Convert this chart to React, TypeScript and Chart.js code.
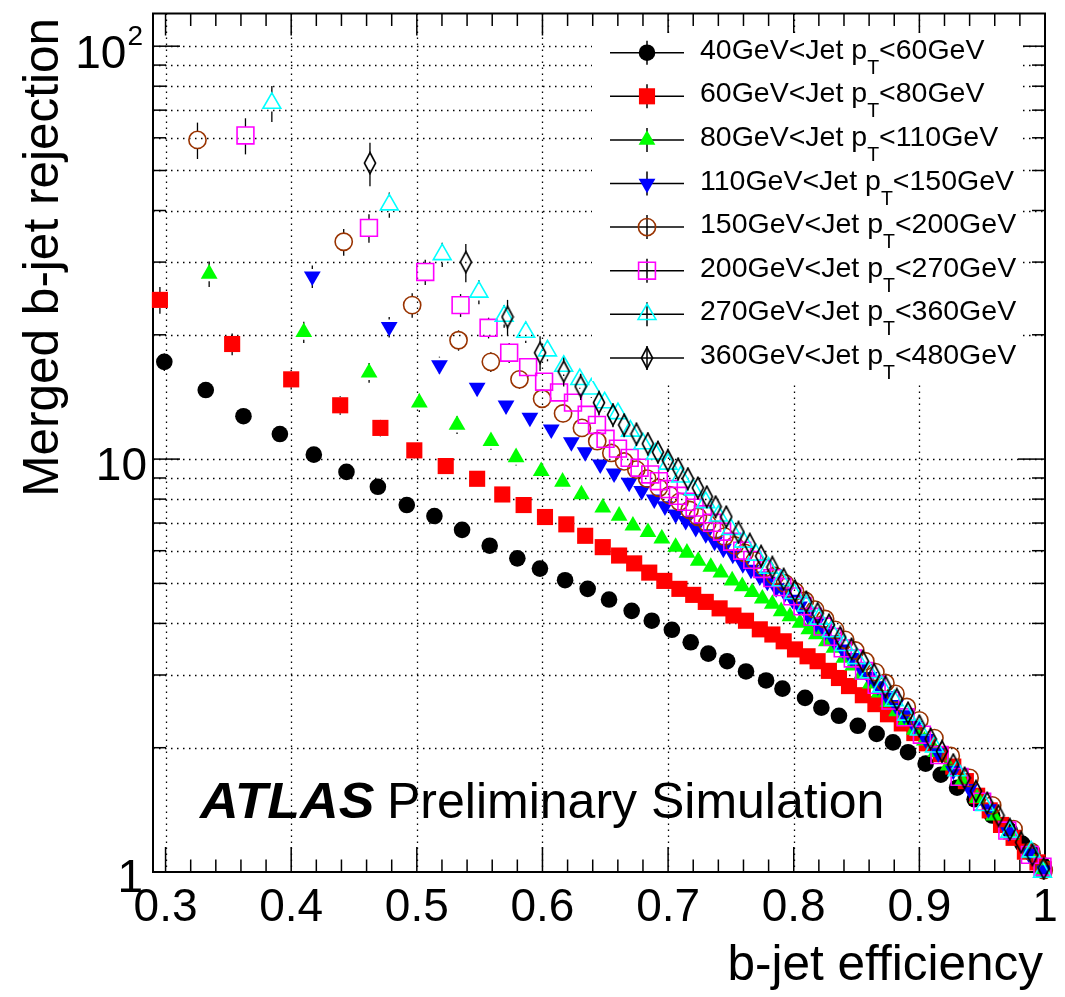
import React, { useEffect, useRef } from "react";
import { Chart, registerables } from "chart.js";
Chart.register(...registerables);

// [b-jet efficiency, merged b-jet rejection, stat. error]
type Pt = [number, number, number];

const PT_BINS = [40, 60, 80, 110, 150, 200, 270, 360, 480];

const PT40_60: Pt[] = [
  [0.299, 17.2, 0.85], [0.332, 14.7, 0.65], [0.362, 12.7, 0.5], [0.391, 11.5, 0.42], [0.418, 10.25, 0.36],
  [0.444, 9.31, 0.3], [0.469, 8.57, 0.26], [0.492, 7.74, 0.22], [0.514, 7.28, 0.2], [0.536, 6.74, 0.18],
  [0.558, 6.17, 0.16], [0.58, 5.75, 0.14], [0.598, 5.43, 0.13], [0.618, 5.09, 0.12], [0.636, 4.85, 0.11],
  [0.653, 4.57, 0.1], [0.671, 4.29, 0.09], [0.687, 4.06, 0.085], [0.703, 3.86, 0.08], [0.718, 3.6, 0.07],
  [0.732, 3.38, 0.065], [0.747, 3.24, 0.06], [0.762, 3.06, 0.055], [0.778, 2.91, 0.05], [0.791, 2.78, 0.048],
  [0.809, 2.64, 0.045], [0.822, 2.5, 0.04], [0.836, 2.39, 0.038], [0.851, 2.26, 0.035], [0.866, 2.16, 0.032],
  [0.879, 2.06, 0.03], [0.891, 1.95, 0.028], [0.905, 1.83, 0.025], [0.917, 1.72, 0.022], [0.93, 1.6, 0.02],
  [0.944, 1.5, 0.018], [0.958, 1.37, 0.015], [0.972, 1.26, 0.012], [0.982, 1.17, 0.01], [0.99, 1.11, 0.008],
  [0.998, 1.04, 0.005],
];

const PT60_80: Pt[] = [
  [0.2955, 24.3, 1.8], [0.353, 19.0, 1.15], [0.4, 15.6, 0.85], [0.439, 13.5, 0.7], [0.471, 11.9, 0.55],
  [0.498, 10.5, 0.47], [0.523, 9.62, 0.42], [0.548, 8.96, 0.38], [0.568, 8.21, 0.33], [0.585, 7.74, 0.3],
  [0.602, 7.24, 0.27], [0.619, 6.95, 0.25], [0.634, 6.52, 0.22], [0.648, 6.12, 0.2], [0.661, 5.84, 0.19],
  [0.673, 5.59, 0.17], [0.685, 5.31, 0.16], [0.697, 5.07, 0.15], [0.709, 4.85, 0.14], [0.72, 4.69, 0.13],
  [0.73, 4.51, 0.12], [0.741, 4.35, 0.11], [0.752, 4.18, 0.1], [0.762, 4.06, 0.1], [0.773, 3.87, 0.09],
  [0.783, 3.76, 0.085], [0.792, 3.62, 0.08], [0.801, 3.46, 0.075], [0.811, 3.33, 0.07], [0.819, 3.24, 0.065],
  [0.828, 3.07, 0.06], [0.836, 2.95, 0.055], [0.844, 2.82, 0.05], [0.855, 2.68, 0.048], [0.865, 2.55, 0.045],
  [0.875, 2.41, 0.042], [0.886, 2.29, 0.04], [0.896, 2.17, 0.037], [0.906, 2.05, 0.034], [0.917, 1.93, 0.03],
  [0.927, 1.8, 0.027], [0.937, 1.66, 0.024], [0.946, 1.53, 0.021], [0.956, 1.41, 0.018], [0.965, 1.3, 0.015],
  [0.975, 1.21, 0.012], [0.984, 1.12, 0.009], [0.994, 1.055, 0.006], [0.999, 1.015, 0.004],
];

const PT80_110: Pt[] = [
  [0.3347, 28.1, 2.0], [0.41, 20.3, 1.2], [0.462, 16.2, 0.9], [0.502, 13.7, 0.7], [0.532, 12.1, 0.6],
  [0.559, 11.05, 0.52], [0.579, 10.1, 0.45], [0.599, 9.35, 0.4], [0.616, 8.81, 0.37], [0.631, 8.21, 0.33],
  [0.648, 7.63, 0.3], [0.661, 7.29, 0.28], [0.672, 6.9, 0.26], [0.684, 6.65, 0.24], [0.695, 6.42, 0.22],
  [0.706, 6.13, 0.21], [0.715, 5.93, 0.2], [0.724, 5.67, 0.18], [0.734, 5.48, 0.17], [0.742, 5.31, 0.16],
  [0.751, 5.08, 0.15], [0.759, 4.92, 0.14], [0.767, 4.76, 0.13], [0.775, 4.59, 0.125], [0.783, 4.46, 0.12],
  [0.79, 4.28, 0.11], [0.797, 4.16, 0.105], [0.805, 4.01, 0.1], [0.812, 3.87, 0.095], [0.818, 3.76, 0.09],
  [0.826, 3.62, 0.085], [0.832, 3.49, 0.08], [0.84, 3.3, 0.075], [0.847, 3.16, 0.07], [0.854, 3.01, 0.065],
  [0.861, 2.86, 0.06], [0.868, 2.72, 0.056], [0.875, 2.58, 0.052], [0.882, 2.45, 0.048], [0.889, 2.33, 0.045],
  [0.896, 2.21, 0.042], [0.904, 2.08, 0.038], [0.913, 1.95, 0.034], [0.923, 1.81, 0.03], [0.934, 1.66, 0.026],
  [0.946, 1.51, 0.022], [0.959, 1.37, 0.018], [0.973, 1.23, 0.013], [0.987, 1.11, 0.008], [0.999, 1.01, 0.004],
];

const PT110_150: Pt[] = [
  [0.4168, 27.7, 1.75], [0.478, 20.9, 1.2], [0.518, 16.9, 0.8], [0.548, 14.9, 0.65], [0.571, 13.5, 0.58],
  [0.59, 12.6, 0.52], [0.607, 11.8, 0.47], [0.623, 11.0, 0.43], [0.634, 10.4, 0.4], [0.646, 9.71, 0.36],
  [0.657, 9.24, 0.34], [0.669, 8.77, 0.31], [0.679, 8.38, 0.29], [0.689, 7.99, 0.27], [0.6975, 7.69, 0.26],
  [0.706, 7.35, 0.24], [0.714, 7.09, 0.23], [0.722, 6.82, 0.22], [0.73, 6.58, 0.2], [0.737, 6.31, 0.19],
  [0.744, 6.07, 0.18], [0.7515, 5.87, 0.17], [0.7595, 5.57, 0.16], [0.766, 5.4, 0.15], [0.773, 5.2, 0.14],
  [0.779, 5.05, 0.135], [0.786, 4.87, 0.13], [0.793, 4.74, 0.12], [0.799, 4.57, 0.115], [0.8045, 4.4, 0.11],
  [0.811, 4.2, 0.1], [0.818, 4.01, 0.095], [0.825, 3.83, 0.09], [0.832, 3.64, 0.085], [0.839, 3.46, 0.08],
  [0.846, 3.3, 0.075], [0.853, 3.13, 0.07], [0.86, 2.97, 0.065], [0.867, 2.82, 0.06], [0.874, 2.67, 0.055],
  [0.881, 2.54, 0.05], [0.888, 2.4, 0.046], [0.896, 2.26, 0.042], [0.905, 2.1, 0.038], [0.915, 1.94, 0.034],
  [0.927, 1.76, 0.029], [0.94, 1.59, 0.024], [0.955, 1.42, 0.019], [0.971, 1.25, 0.013], [0.987, 1.11, 0.008],
  [0.999, 1.01, 0.004],
];

const PT150_200: Pt[] = [
  [0.3254, 59.3, 6.0], [0.4418, 33.6, 2.5], [0.4963, 23.6, 1.6], [0.5332, 19.4, 1.1], [0.5589, 17.2, 0.95],
  [0.5817, 15.6, 0.8], [0.5997, 14.0, 0.7], [0.6164, 12.9, 0.62], [0.6314, 11.9, 0.55], [0.6436, 11.05, 0.5],
  [0.6548, 10.35, 0.46], [0.665, 9.87, 0.43], [0.6747, 9.43, 0.4], [0.6833, 8.97, 0.37], [0.6927, 8.52, 0.35],
  [0.7012, 8.18, 0.33], [0.7091, 7.88, 0.31], [0.7171, 7.53, 0.29], [0.7237, 7.25, 0.27], [0.7312, 6.99, 0.26],
  [0.7378, 6.74, 0.25], [0.745, 6.49, 0.23], [0.753, 6.18, 0.22], [0.761, 5.93, 0.2], [0.769, 5.68, 0.19],
  [0.777, 5.45, 0.18], [0.785, 5.21, 0.17], [0.793, 5.0, 0.16], [0.801, 4.78, 0.15], [0.809, 4.54, 0.14],
  [0.817, 4.32, 0.13], [0.825, 4.1, 0.12], [0.833, 3.86, 0.11], [0.841, 3.65, 0.1], [0.849, 3.44, 0.095],
  [0.857, 3.24, 0.09], [0.865, 3.05, 0.085], [0.873, 2.87, 0.08], [0.881, 2.7, 0.075], [0.89, 2.51, 0.07],
  [0.9, 2.33, 0.06], [0.912, 2.11, 0.055], [0.925, 1.91, 0.045], [0.94, 1.69, 0.04], [0.958, 1.45, 0.03],
  [0.975, 1.27, 0.02], [0.989, 1.12, 0.012], [0.999, 1.01, 0.005],
];

const PT200_270: Pt[] = [
  [0.3636, 60.8, 6.1], [0.4619, 36.3, 2.9], [0.5067, 28.4, 2.0], [0.5348, 23.6, 1.5], [0.5571, 20.8, 1.2],
  [0.5735, 18.1, 1.0], [0.5886, 16.7, 0.85], [0.6013, 15.4, 0.75], [0.6132, 14.5, 0.68], [0.6243, 13.7, 0.62],
  [0.6352, 12.8, 0.56], [0.6434, 12.1, 0.52], [0.6502, 11.2, 0.47], [0.6601, 10.6, 0.44], [0.6694, 10.07, 0.41],
  [0.6773, 9.53, 0.38], [0.6858, 9.18, 0.36], [0.6927, 8.84, 0.34], [0.7006, 8.46, 0.32], [0.7078, 8.15, 0.3],
  [0.7145, 7.88, 0.29], [0.7211, 7.63, 0.27], [0.7277, 7.35, 0.26], [0.735, 7.01, 0.25], [0.743, 6.67, 0.23],
  [0.751, 6.31, 0.22], [0.759, 6.0, 0.2], [0.767, 5.7, 0.19], [0.775, 5.42, 0.18], [0.783, 5.15, 0.17],
  [0.791, 4.9, 0.16], [0.799, 4.65, 0.15], [0.807, 4.4, 0.14], [0.815, 4.15, 0.13], [0.823, 3.93, 0.12],
  [0.831, 3.71, 0.11], [0.839, 3.48, 0.1], [0.847, 3.29, 0.095], [0.856, 3.07, 0.09], [0.866, 2.84, 0.08],
  [0.877, 2.6, 0.07], [0.889, 2.37, 0.062], [0.902, 2.15, 0.055], [0.916, 1.92, 0.046], [0.932, 1.7, 0.038],
  [0.95, 1.48, 0.03], [0.97, 1.26, 0.02], [0.988, 1.1, 0.012], [0.998, 1.03, 0.006],
];

const PT270_360: Pt[] = [
  [0.3846, 72.8, 7.3], [0.4781, 41.3, 2.9], [0.5202, 31.3, 2.1], [0.5494, 25.4, 1.7], [0.5695, 22.2, 1.4],
  [0.5867, 20.3, 1.2], [0.604, 18.3, 1.05], [0.6169, 16.8, 0.9], [0.6297, 15.6, 0.8], [0.6389, 14.8, 0.74],
  [0.6495, 13.7, 0.66], [0.6601, 12.9, 0.6], [0.67, 11.7, 0.5], [0.68, 10.9, 0.46], [0.69, 10.3, 0.42],
  [0.7, 9.73, 0.38], [0.71, 9.06, 0.34], [0.72, 8.43, 0.31], [0.73, 7.85, 0.28], [0.74, 7.29, 0.25],
  [0.75, 6.76, 0.22], [0.76, 6.3, 0.2], [0.77, 5.86, 0.18], [0.78, 5.45, 0.16], [0.79, 5.08, 0.15],
  [0.8, 4.73, 0.13], [0.81, 4.41, 0.12], [0.82, 4.1, 0.11], [0.83, 3.82, 0.1], [0.84, 3.54, 0.09],
  [0.85, 3.29, 0.08], [0.86, 3.04, 0.075], [0.87, 2.81, 0.068], [0.88, 2.6, 0.06], [0.89, 2.4, 0.055],
  [0.9, 2.21, 0.05], [0.912, 2.01, 0.045], [0.93, 1.76, 0.038], [0.952, 1.45, 0.03], [0.972, 1.25, 0.022],
  [0.989, 1.12, 0.015], [0.998, 1.0, 0.01],
];

const PT360_480: Pt[] = [
  [0.4627, 52.1, 6.3], [0.539, 30.0, 3.2], [0.5722, 22.1, 2.2], [0.5981, 18.1, 1.75], [0.6169, 16.3, 1.3],
  [0.6304, 15.0, 1.1], [0.645, 13.7, 0.95], [0.6561, 12.8, 0.85], [0.665, 12.1, 0.8], [0.6748, 11.5, 0.75],
  [0.6839, 10.9, 0.7], [0.6919, 10.4, 0.66], [0.6998, 9.93, 0.63], [0.708, 9.47, 0.6], [0.7157, 8.97, 0.56],
  [0.7237, 8.52, 0.53], [0.7308, 8.11, 0.5], [0.7378, 7.67, 0.47], [0.7463, 7.25, 0.45], [0.756, 6.65, 0.41],
  [0.765, 6.22, 0.38], [0.774, 5.82, 0.36], [0.783, 5.47, 0.34], [0.792, 5.12, 0.31], [0.801, 4.8, 0.29],
  [0.81, 4.51, 0.27], [0.819, 4.23, 0.26], [0.828, 3.97, 0.24], [0.837, 3.7, 0.22], [0.846, 3.47, 0.21],
  [0.855, 3.24, 0.2], [0.864, 3.01, 0.18], [0.873, 2.81, 0.17], [0.882, 2.62, 0.16], [0.891, 2.43, 0.15],
  [0.9, 2.26, 0.14], [0.909, 2.1, 0.13], [0.918, 1.96, 0.12], [0.927, 1.82, 0.11], [0.936, 1.69, 0.1],
  [0.945, 1.57, 0.09], [0.954, 1.47, 0.085], [0.963, 1.37, 0.08], [0.972, 1.27, 0.07], [0.981, 1.18, 0.06],
  [0.99, 1.1, 0.05], [0.999, 1.02, 0.04],
];

const SERIES: Pt[][] = [PT40_60, PT60_80, PT80_110, PT110_150, PT150_200, PT200_270, PT270_360, PT360_480];

const X_MIN = 0.29;
const X_MAX = 1.0;
const Y_MIN = 1;
const Y_MAX = 120;
const X_LABELS = [0.3, 0.4, 0.5, 0.6, 0.7, 0.8, 0.9, 1.0];
const X_LABEL_TEXT = ["0.3", "0.4", "0.5", "0.6", "0.7", "0.8", "0.9", "1"];
const X_GRID = [0.3, 0.4, 0.5, 0.6, 0.7, 0.8, 0.9];
const Y_GRID = [2, 3, 4, 5, 6, 7, 8, 9, 10, 20, 30, 40, 50, 60, 70, 80, 90, 100];
const X_TITLE = "b-jet efficiency";
const Y_TITLE = "Merged b-jet rejection";
const LABEL_BOLD = "ATLAS";
const LABEL_REST = "Preliminary Simulation";

type Style = { color: string; shape: string; r: number; filled: boolean; rot: number; gap: number };
const STYLES: Style[] = [
  { color: "#000000", shape: "circle", r: 8.3, filled: true, rot: 0, gap: 8 },
  { color: "#ff0000", shape: "rect", r: 11.4, filled: true, rot: 0, gap: 8 },
  { color: "#00ff00", shape: "triangle", r: 9.7, filled: true, rot: 0, gap: 7.5 },
  { color: "#0000ff", shape: "triangle", r: 9.7, filled: true, rot: 180, gap: 7.5 },
  { color: "#993300", shape: "circle", r: 8.6, filled: false, rot: 0, gap: 8.5 },
  { color: "#ff00ff", shape: "rect", r: 11.9, filled: false, rot: 0, gap: 8.5 },
  { color: "#00ffff", shape: "triangle", r: 10.3, filled: false, rot: 0, gap: 8.5 },
  { color: "#000000", shape: "diamond", r: 10, filled: false, rot: 0, gap: 10 },
];

const FONT = '"Liberation Sans", Arial, Helvetica, sans-serif';
const W = 1065;
const H = 997;
const AREA = { left: 153, top: 10, right: 1045, bottom: 872 };

function makeDiamond(): HTMLCanvasElement {
  const c = document.createElement("canvas");
  c.width = 14;
  c.height = 24;
  const g = c.getContext("2d")!;
  g.strokeStyle = "#000";
  g.lineWidth = 1.6;
  g.beginPath();
  g.moveTo(7, 1.5);
  g.lineTo(12.6, 12);
  g.lineTo(7, 22.5);
  g.lineTo(1.4, 12);
  g.closePath();
  g.stroke();
  return c;
}

function drawMarker(ctx: CanvasRenderingContext2D, st: Style, x: number, y: number, diamond: HTMLCanvasElement) {
  ctx.save();
  ctx.translate(x, y);
  if (st.shape === "diamond") {
    ctx.drawImage(diamond, -diamond.width / 2, -diamond.height / 2);
    ctx.restore();
    return;
  }
  ctx.rotate((st.rot * Math.PI) / 180);
  ctx.beginPath();
  if (st.shape === "circle") {
    ctx.arc(0, 0, st.r, 0, Math.PI * 2);
  } else if (st.shape === "rect") {
    const s = st.r * Math.SQRT1_2;
    ctx.rect(-s, -s, 2 * s, 2 * s);
  } else {
    let a = 0;
    ctx.moveTo(Math.sin(a) * st.r, -Math.cos(a) * st.r);
    a += (2 * Math.PI) / 3;
    ctx.lineTo(Math.sin(a) * st.r, -Math.cos(a) * st.r);
    a += (2 * Math.PI) / 3;
    ctx.lineTo(Math.sin(a) * st.r, -Math.cos(a) * st.r);
    ctx.closePath();
  }
  if (st.filled) {
    ctx.fillStyle = st.color;
    ctx.fill();
  } else {
    ctx.strokeStyle = st.color;
    ctx.lineWidth = 1.6;
    ctx.stroke();
  }
  ctx.restore();
}

function line(ctx: CanvasRenderingContext2D, x1: number, y1: number, x2: number, y2: number) {
  ctx.beginPath();
  ctx.moveTo(x1, y1);
  ctx.lineTo(x2, y2);
  ctx.stroke();
}

function setFont(ctx: CanvasRenderingContext2D, size: number, extra = "") {
  ctx.font = `${extra} ${size}px ${FONT}`.trim();
}

export default function App() {
  const ref = useRef<HTMLCanvasElement | null>(null);

  useEffect(() => {
    const canvas = ref.current;
    if (!canvas) return;
    const diamond = makeDiamond();

    const rootPlugin = {
      id: "rootStyle",
      beforeDraw(chart: any) {
        const ctx = chart.ctx as CanvasRenderingContext2D;
        ctx.save();
        ctx.fillStyle = "#fff";
        ctx.fillRect(0, 0, chart.width, chart.height);
        ctx.restore();
      },
      beforeDatasetsDraw(chart: any) {
        const ctx = chart.ctx as CanvasRenderingContext2D;
        const a = chart.chartArea;
        const xs = chart.scales.x;
        const ys = chart.scales.y;
        ctx.save();
        ctx.strokeStyle = "#000";
        ctx.lineWidth = 1.3;
        ctx.setLineDash([1.5, 4.5]);
        for (const v of X_GRID) {
          const px = Math.round(xs.getPixelForValue(v)) + 0.5;
          line(ctx, px, a.top, px, a.bottom);
        }
        for (const v of Y_GRID) {
          const py = Math.round(ys.getPixelForValue(v)) + 0.5;
          line(ctx, a.left, py, a.right, py);
        }
        ctx.setLineDash([]);
        ctx.lineWidth = 1.5;
        for (let i = 30; i <= 100; i += 2) {
          const v = i / 100;
          const px = xs.getPixelForValue(v);
          const major = i % 10 === 0;
          line(ctx, px, a.bottom, px, a.bottom - (major ? 25 : 12.5));
          line(ctx, px, a.top, px, a.top + (major ? 22 : 12.5));
        }
        const yt: number[] = [];
        for (const dec of [1, 10]) for (let k = 1; k <= 9; k++) yt.push(k * dec);
        yt.push(100);
        for (const v of yt) {
          const py = ys.getPixelForValue(v);
          const major = v === 1 || v === 10 || v === 100;
          const len = major ? 27 : 13;
          line(ctx, a.left, py, a.left + len, py);
          line(ctx, a.right, py, a.right - len, py);
        }
        ctx.lineWidth = 2;
        ctx.strokeRect(a.left, a.top, a.right - a.left, a.bottom - a.top);
        ctx.restore();
      },
      beforeDatasetDraw(chart: any, args: any) {
        const i = args.index;
        const ctx = chart.ctx as CanvasRenderingContext2D;
        const xs = chart.scales.x;
        const ys = chart.scales.y;
        const st = STYLES[i];
        ctx.save();
        ctx.strokeStyle = "#000";
        ctx.lineWidth = 1.3;
        for (const [e, r, err] of SERIES[i]) {
          const px = xs.getPixelForValue(e);
          const pc = ys.getPixelForValue(r);
          const ph = ys.getPixelForValue(r + err);
          const pl = ys.getPixelForValue(Math.max(r - err, 0.01));
          if (pc - ph > st.gap) line(ctx, px, pc - st.gap, px, ph);
          if (pl - pc > st.gap) line(ctx, px, pc + st.gap, px, pl);
        }
        ctx.restore();
      },
      afterDatasetsDraw(chart: any) {
        const ctx = chart.ctx as CanvasRenderingContext2D;
        const xs = chart.scales.x;
        const ys = chart.scales.y;
        ctx.save();
        ctx.fillStyle = "#000";
        setFont(ctx, 46);
        ctx.textAlign = "center";
        ctx.textBaseline = "alphabetic";
        X_LABELS.forEach((v, k) => {
          ctx.fillText(X_LABEL_TEXT[k], xs.getPixelForValue(v), 921);
        });
        ctx.textAlign = "right";
        ctx.fillText("1", 143, ys.getPixelForValue(1) + 20);
        ctx.fillText("10", 147, ys.getPixelForValue(10) + 21);
        setFont(ctx, 28);
        const supW = ctx.measureText("2").width;
        ctx.fillText("2", 143, ys.getPixelForValue(100) - 1);
        setFont(ctx, 46);
        ctx.fillText("10", 143 - supW - 1, ys.getPixelForValue(100) + 22);
        setFont(ctx, 49.5);
        ctx.textAlign = "right";
        ctx.fillText(X_TITLE, 1043, 980);
        ctx.save();
        ctx.translate(58, 18);
        ctx.rotate(-Math.PI / 2);
        ctx.textAlign = "right";
        ctx.fillText(Y_TITLE, 0, 0);
        ctx.restore();
        ctx.textAlign = "left";
        ctx.save();
        ctx.translate(200, 818);
        ctx.scale(1.07, 1);
        setFont(ctx, 50, "italic bold");
        ctx.fillText(LABEL_BOLD, 0, 0);
        ctx.restore();
        setFont(ctx, 50);
        ctx.fillText(LABEL_REST, 387, 818);
        // legend
        ctx.fillStyle = "#fff";
        ctx.fillRect(592, 33, 1023 - 592, 381 - 33);
        for (let i = 0; i < SERIES.length; i++) {
          const cy = 52.7 + i * 43.6;
          ctx.strokeStyle = "#000";
          ctx.lineWidth = 1.5;
          line(ctx, 610, cy, 684, cy);
          line(ctx, 647, cy - 12, 647, cy + 12);
          drawMarker(ctx, STYLES[i], 647, cy, diamond);
          ctx.fillStyle = "#000";
          ctx.textAlign = "left";
          setFont(ctx, 28.5);
          const pre = `${PT_BINS[i]}GeV<Jet p`;
          const post = `<${PT_BINS[i + 1]}GeV`;
          let x = 700;
          ctx.fillText(pre, x, cy + 6);
          x += ctx.measureText(pre).width;
          setFont(ctx, 19.5);
          ctx.fillText("T", x, cy + 21);
          x += ctx.measureText("T").width;
          setFont(ctx, 28.5);
          ctx.fillText(post, x, cy + 6);
        }
        ctx.restore();
      },
    };

    const datasets = SERIES.map((s, i) => {
      const st = STYLES[i];
      return {
        label: `${PT_BINS[i]}-${PT_BINS[i + 1]}`,
        data: s.map(([e, r]) => ({ x: e, y: r })),
        showLine: false,
        pointStyle: st.shape === "diamond" ? diamond : st.shape,
        pointRadius: st.r,
        pointHoverRadius: st.r,
        pointRotation: st.rot,
        pointBackgroundColor: st.filled ? st.color : "rgba(0,0,0,0)",
        pointBorderColor: st.color,
        pointBorderWidth: st.filled ? 0 : 1.6,
        clip: false as any,
        order: SERIES.length - 1 - i,
      };
    });

    const chart = new Chart(canvas, {
      type: "scatter",
      data: { datasets: datasets as any },
      options: {
        animation: false,
        responsive: false,
        devicePixelRatio: 1,
        events: [],
        layout: { padding: { left: AREA.left, top: AREA.top, right: W - AREA.right, bottom: H - AREA.bottom } },
        scales: {
          x: { type: "linear", min: X_MIN, max: X_MAX, display: false },
          y: { type: "logarithmic", min: Y_MIN, max: Y_MAX, display: false },
        },
        plugins: { legend: { display: false }, tooltip: { enabled: false } },
      },
      plugins: [rootPlugin as any],
    });
    return () => chart.destroy();
  }, []);

  return (
    <div style={{ position: "fixed", left: 0, top: 0, width: W, height: H, background: "#fff" }}>
      <canvas ref={ref} width={W} height={H} style={{ width: W, height: H, display: "block" }} />
    </div>
  );
}
